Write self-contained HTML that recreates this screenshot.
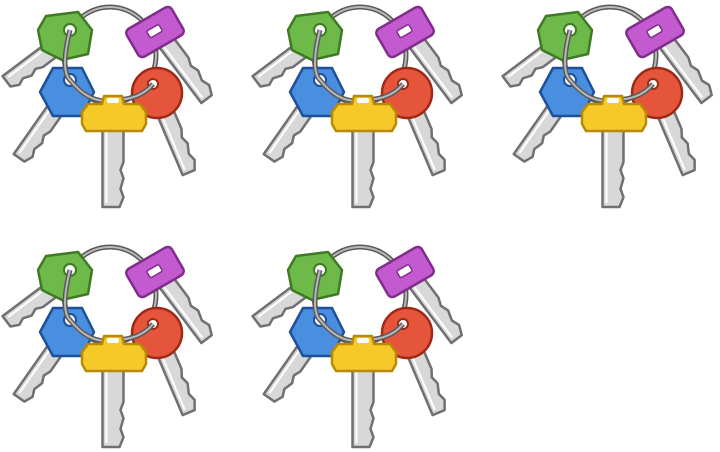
<!DOCTYPE html>
<html><head><meta charset="utf-8"><style>
html,body{margin:0;padding:0;background:#fff;width:720px;height:452px;overflow:hidden}
svg{display:block}
</style></head><body>
<svg id="chart" width="720" height="452" viewBox="0 0 720 452" xmlns="http://www.w3.org/2000/svg"></svg>
<script>
// data: number of key bunches and grid layout
const itemCount = [5];
const perRow = [3];
const cellW = 250, cellH = 240;
const NS = 'http://www.w3.org/2000/svg';
const svg = document.getElementById('chart');
function el(tag, attrs, parent){const e=document.createElementNS(NS,tag);for(const k in attrs)e.setAttribute(k,attrs[k]);parent.appendChild(e);return e;}
function blade(g,x,y,len,w,ang){
  const b=el('g',{transform:`translate(${x},${y}) rotate(${ang})`},g);
  el('path',{d:`M${-w/2},0 L${w/2},0 L${w/2},${len*0.45} L${w/2-3},${len*0.55} L${w/2},${len*0.65} L${w/2-3},${len*0.78} L${w/2},${len*0.88} L${w/2-4},${len} L${-w/2},${len} Z`,fill:'#d8d8d8',stroke:'#707070','stroke-width':2.5,'stroke-linejoin':'round'},b);
  el('line',{x1:-w/2+4,y1:4,x2:-w/2+4,y2:len-4,stroke:'#fff','stroke-width':2},b);
}
function bunch(ox,oy,i){
  const g=el('g',{transform:`translate(${ox},${oy})`},svg);
  
  
  blade(g,62,42,68,17,53);
  blade(g,160,34,80,17,-37);
  blade(g,62,100,72,17,35);
  blade(g,160,100,78,17,-23);
  blade(g,113,125,82,21,0);
  el('ellipse',{cx:110,cy:55,rx:46,ry:48,fill:'none',stroke:'#5a5a5a','stroke-width':5},g);
  el('ellipse',{cx:110,cy:55,rx:46,ry:48,fill:'none',stroke:'#b8b8b8','stroke-width':2},g);
  el('path',{d:'M46,16 L78,12 L92,30 L88,54 L62,60 L42,50 L38,30 Z',fill:'#6db94a',stroke:'#3f7a25','stroke-width':2.5,'stroke-linejoin':'round'},g);
  el('circle',{cx:70,cy:30,r:6,fill:'#fff',stroke:'#3f7a25','stroke-width':2},g);
  el('g',{transform:'translate(155,32) rotate(-30)'},g).innerHTML='<rect x="-26" y="-16" width="52" height="32" rx="5" fill="#c35ad0" stroke="#7f2f8a" stroke-width="2.5"/><rect x="-7" y="-5" width="14" height="8" rx="2" fill="#fff" stroke="#7f2f8a" stroke-width="1.5"/>';
  el('polygon',{points:'53,68 82,68 94,92 82,116 53,116 40,92',fill:'#4a8ee0',stroke:'#1d4f9c','stroke-width':2.5,'stroke-linejoin':'round'},g);
  el('circle',{cx:70,cy:80,r:6,fill:'#fff',stroke:'#1d4f9c','stroke-width':2},g);
  el('circle',{cx:157,cy:93,r:25,fill:'#e5553b',stroke:'#9c2a16','stroke-width':2.5},g);
  el('circle',{cx:153,cy:84,r:5,fill:'#fff',stroke:'#9c2a16','stroke-width':2},g);
  el('path',{d:'M70,30 Q60,70 70,80 Q90,105 113,100 Q140,100 153,84',fill:'none',stroke:'#5a5a5a','stroke-width':5},g);
  el('path',{d:'M70,30 Q60,70 70,80 Q90,105 113,100 Q140,100 153,84',fill:'none',stroke:'#b8b8b8','stroke-width':2},g);
  el('path',{d:'M104,96 L122,96 L124,104 L140,104 L146,112 L146,124 L142,131 L86,131 L82,124 L82,112 L88,104 L102,104 Z',fill:'#f5c928',stroke:'#b88a00','stroke-width':2.5,'stroke-linejoin':'round'},g);
  el('rect',{x:107,y:98,width:12,height:5,rx:2,fill:'#fff'},g);
}
for(let i=0;i<itemCount[0];i++){
  bunch((i%perRow[0])*cellW, Math.floor(i/perRow[0])*cellH, i);
}
</script>
</body></html>
